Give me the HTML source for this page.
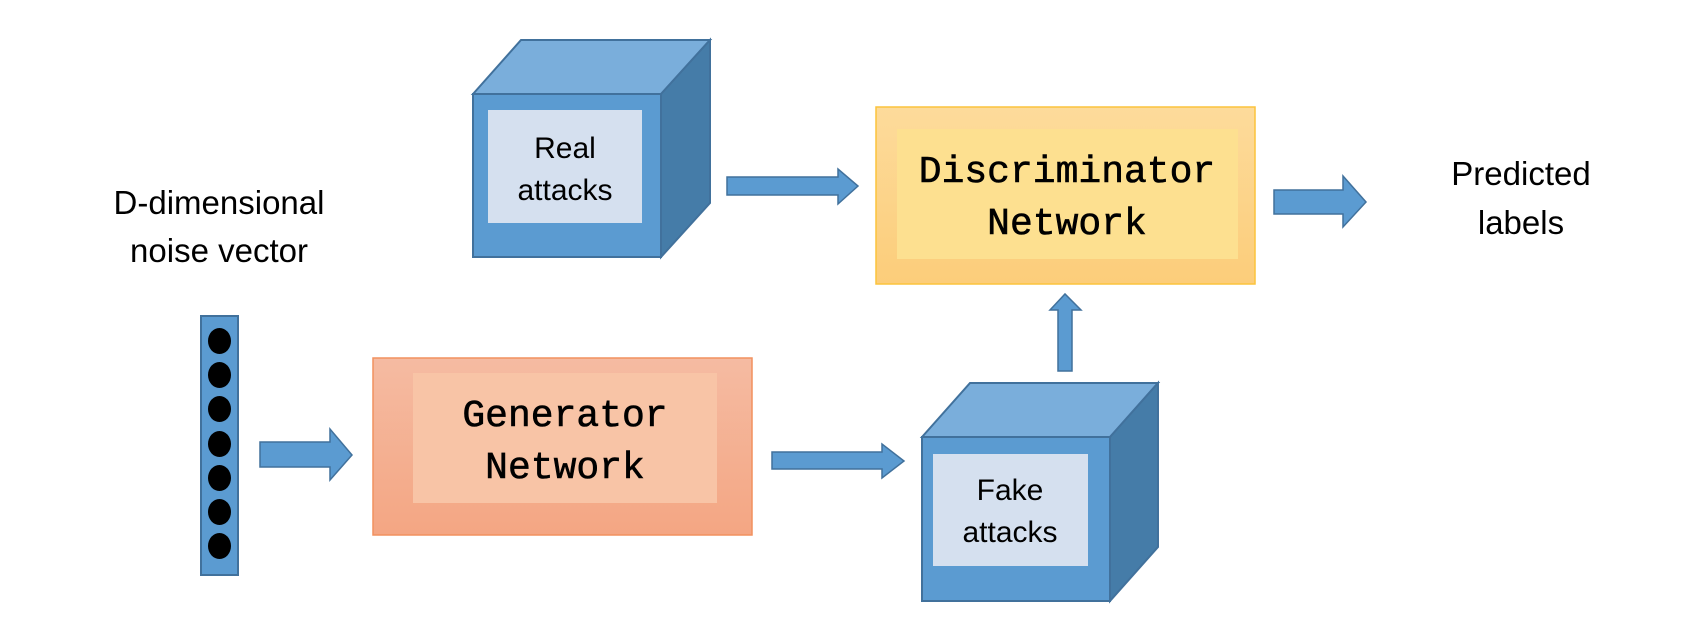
<!DOCTYPE html>
<html><head><meta charset="utf-8"><style>
html,body{margin:0;padding:0;background:#fff;}
svg{display:block;}
.c{font-family:"Liberation Sans",sans-serif;font-size:33px;fill:#000;text-anchor:middle;}
.m{font-family:"Liberation Mono",monospace;font-size:38px;fill:#000;text-anchor:middle;stroke:#000;stroke-width:0.6;}
</style></head><body>
<svg width="1696" height="632" viewBox="0 0 1696 632" xmlns="http://www.w3.org/2000/svg">
<defs>
<linearGradient id="g" x1="0" y1="0" x2="0" y2="1"><stop offset="0" stop-color="#f5bba2"/><stop offset="1" stop-color="#f4a683"/></linearGradient>
<linearGradient id="d" x1="0" y1="0" x2="0" y2="1"><stop offset="0" stop-color="#fddb9b"/><stop offset="1" stop-color="#fccd7a"/></linearGradient>
</defs>
<!-- texts -->
<text class="c" x="219" y="214">D-dimensional</text>
<text class="c" x="219" y="262">noise vector</text>
<text class="c" x="1521" y="185">Predicted</text>
<text class="c" x="1521" y="234">labels</text>

<!-- Real cube -->
<g stroke="#41719c" stroke-width="2">
<polygon points="473,94 521,40 710,40 661,94" fill="#7aaedb"/>
<polygon points="661,94 710,40 710,203 661,257" fill="#457ca8"/>
<rect x="473" y="94" width="188" height="163" fill="#5b9bd1"/>
</g>
<rect x="488" y="110" width="154" height="113" fill="#d5e0ef"/>
<text class="c" x="565" y="158" style="font-size:30px">Real</text>
<text class="c" x="565" y="200" style="font-size:30px">attacks</text>

<!-- Fake cube -->
<g stroke="#41719c" stroke-width="2">
<polygon points="922,437 970,383 1158,383 1110,437" fill="#7aaedb"/>
<polygon points="1110,437 1158,383 1158,547 1110,601" fill="#457ca8"/>
<rect x="922" y="437" width="188" height="164" fill="#5b9bd1"/>
</g>
<rect x="933" y="454" width="155" height="112" fill="#d5e0ef"/>
<text class="c" x="1010" y="500" style="font-size:30px">Fake</text>
<text class="c" x="1010" y="542" style="font-size:30px">attacks</text>

<!-- noise vector -->
<rect x="201" y="316" width="37" height="259" fill="#5b9bd1" stroke="#41719c" stroke-width="2"/>
<g fill="#000">
<ellipse cx="219.5" cy="341" rx="11.5" ry="13"/>
<ellipse cx="219.5" cy="375" rx="11.5" ry="13"/>
<ellipse cx="219.5" cy="409" rx="11.5" ry="13"/>
<ellipse cx="219.5" cy="444" rx="11.5" ry="13"/>
<ellipse cx="219.5" cy="478" rx="11.5" ry="13"/>
<ellipse cx="219.5" cy="512" rx="11.5" ry="13"/>
<ellipse cx="219.5" cy="546" rx="11.5" ry="13"/>
</g>

<!-- Generator -->
<rect x="373" y="358" width="379" height="177" fill="url(#g)" stroke="#f2915f" stroke-width="1.5"/>
<rect x="413" y="373" width="304" height="130" fill="#f8c4a6"/>
<text class="m" x="565" y="426">Generator</text>
<text class="m" x="565" y="478">Network</text>

<!-- Discriminator -->
<rect x="876" y="107" width="379" height="177" fill="url(#d)" stroke="#fcc33c" stroke-width="1.5"/>
<rect x="897" y="129" width="341" height="130" fill="#fde090"/>
<text class="m" x="1067" y="182">Discriminator</text>
<text class="m" x="1067" y="234">Network</text>

<!-- arrows -->
<g fill="#5b9bd1" stroke="#41719c" stroke-width="1.5">
<polygon points="260,442 330,442 330,429 352,455 330,480 330,467 260,467"/>
<polygon points="772,452 882,452 882,444 904,461 882,478 882,469 772,469"/>
<polygon points="727,177 838,177 838,169 858,186 838,204 838,195 727,195"/>
<polygon points="1274,190 1343,190 1343,176 1366,202 1343,227 1343,214 1274,214"/>
<polygon points="1058,371 1058,310 1050,310 1065,294 1081,310 1072,310 1072,371"/>
</g>
</svg>
</body></html>
